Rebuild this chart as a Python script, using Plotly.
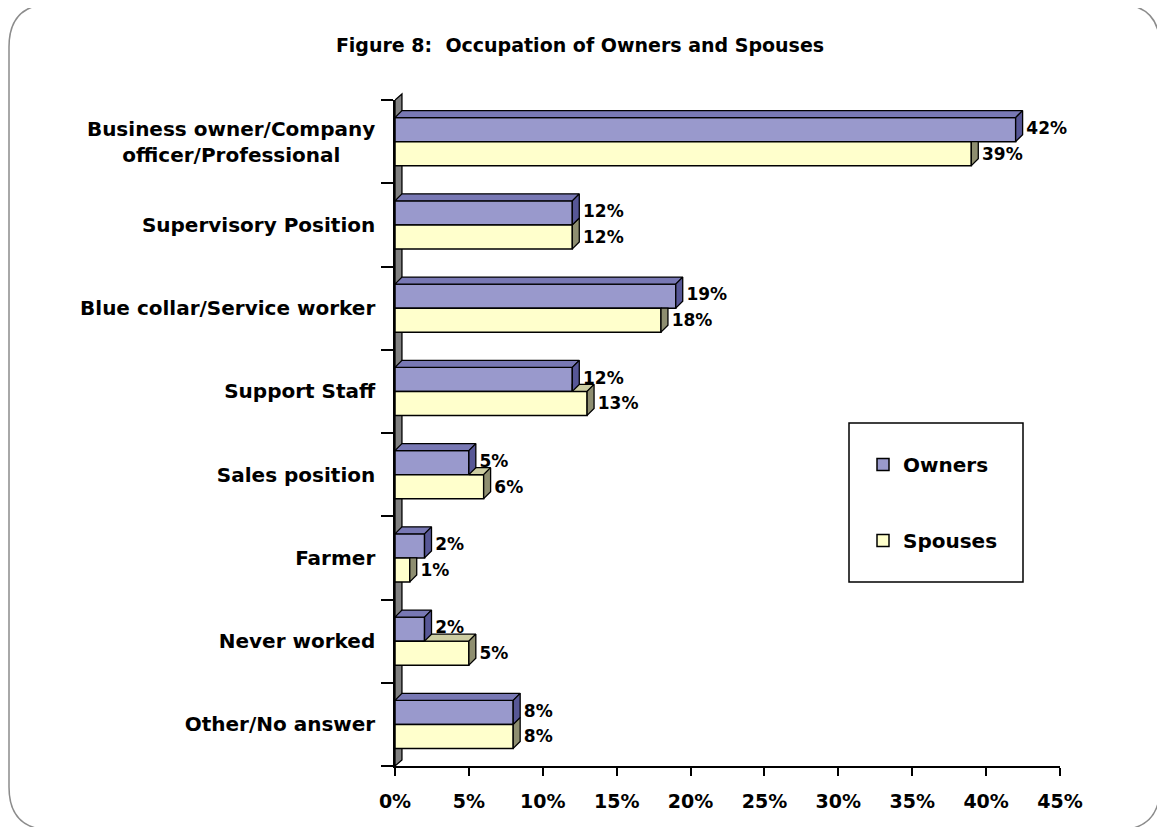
import plotly.graph_objects as go

# ---------------- data ----------------
categories = [
    "Business owner/Company<br>officer/Professional" + "\u00a0" * 5,
    "Supervisory Position",
    "Blue collar/Service worker",
    "Support Staff",
    "Sales position",
    "Farmer",
    "Never worked",
    "Other/No answer",
]
owners = [42, 12, 19, 12, 5, 2, 2, 8]
spouses = [39, 12, 18, 13, 6, 1, 5, 8]
x_ticks = [0, 5, 10, 15, 20, 25, 30, 35, 40, 45]
x_tick_labels = ["0%", "5%", "10%", "15%", "20%", "25%", "30%", "35%", "40%", "45%"]
title_text = "Figure 8:  Occupation of Owners and Spouses"

# ---------------- style ----------------
FONT = "DejaVu Sans"
OWN_FRONT, OWN_TOP, OWN_SIDE = "#9999CC", "#7878B4", "#575796"
SPO_FRONT, SPO_TOP, SPO_SIDE = "#FFFFCC", "#CDCDA2", "#8E8E70"
BARGAP = 0.423
W = (1 - BARGAP) / 2      # bar thickness in category units
DX = 0.47                 # 3-D depth, x (percent units)
DY = 0.084                # 3-D depth, y (category units)

OFF = 8                   # page body margin
W_PX, H_PX = 1165 - OFF, 827 - OFF
L, T = 395 - OFF, 100 - OFF
PW, PH = 665, 666
R, B = W_PX - L - PW, H_PX - T - PH


def fx(px):  # page px -> paper x
    return (px - OFF - L) / PW


def fy(py):  # page px -> paper y
    return (H_PX - B - (py - OFF)) / PH


idx = list(range(len(categories)))


def polys(list_of_pts):
    xs, ys = [], []
    for pts in list_of_pts:
        for p in pts:
            xs.append(p[0]); ys.append(p[1])
        xs += [pts[0][0], None]; ys += [pts[0][1], None]
    return xs, ys


own_top, own_side, spo_top, spo_side = [], [], [], []
for i, o, s in zip(idx, owners, spouses):
    yt, yb = i - W, i
    own_top.append([(0, yt), (o, yt), (o + DX, yt - DY), (DX, yt - DY)])
    own_side.append([(o, yt), (o, yb), (o + DX, yb - DY), (o + DX, yt - DY)])
    st, sb = i, i + W
    if s > o:
        spo_top.append([(o, st), (s, st), (s + DX, st - DY), (o, st - DY)])
    if s >= o:
        spo_side.append([(s, st), (s, sb), (s + DX, sb - DY), (s + DX, st - DY)])
    else:
        spo_side.append([(s, st), (s, sb), (s + DX, sb - DY), (s + DX, st)])

fig = go.Figure()
edge = dict(color="black", width=1.5)

fig.add_trace(go.Bar(
    name="Owners", y=idx, x=owners, orientation="h",
    marker=dict(color=OWN_FRONT, line=edge), legendgroup="o",
    hoverinfo="skip"))
fig.add_trace(go.Bar(
    name="Spouses", y=idx, x=spouses, orientation="h",
    marker=dict(color=SPO_FRONT, line=edge), legendgroup="s",
    hoverinfo="skip"))

for pts, col in [(spo_top, SPO_TOP), (spo_side, SPO_SIDE),
                 (own_top, OWN_TOP), (own_side, OWN_SIDE)]:
    xs, ys = polys(pts)
    fig.add_trace(go.Scatter(
        x=xs, y=ys, mode="lines", fill="toself", fillcolor=col,
        line=dict(color="black", width=1.3), showlegend=False,
        hoverinfo="skip"))

lab_font = dict(family=FONT, size=17, color="black", weight="bold")
LAB_PAD = 0.25
fig.add_trace(go.Scatter(
    x=[v + DX + LAB_PAD for v in owners], y=[i - W / 2 for i in idx],
    mode="text", text=[f"{v}%" for v in owners],
    textposition="middle right", textfont=lab_font,
    cliponaxis=False, showlegend=False, hoverinfo="skip"))
fig.add_trace(go.Scatter(
    x=[v + DX + LAB_PAD for v in spouses], y=[i + W / 2 + 0.02 for i in idx],
    mode="text", text=[f"{v}%" for v in spouses],
    textposition="middle right", textfont=lab_font,
    cliponaxis=False, showlegend=False, hoverinfo="skip"))

# rounded frame (page pixel positions)
r = 43
x0, x1, y0, y1 = 9, 1160, 4, 830
frame = (
    f"M {fx(x0)},{fy(y0 + r)} Q {fx(x0)},{fy(y0)} {fx(x0 + r)},{fy(y0)} "
    f"L {fx(x1 - r)},{fy(y0)} Q {fx(x1)},{fy(y0)} {fx(x1)},{fy(y0 + r)} "
    f"L {fx(x1)},{fy(y1 - r)} Q {fx(x1)},{fy(y1)} {fx(x1 - r)},{fy(y1)} "
    f"L {fx(x0 + r)},{fy(y1)} Q {fx(x0)},{fy(y1)} {fx(x0)},{fy(y1 - r)} Z"
)
shapes = [
    dict(type="path", xref="paper", yref="paper", path=frame,
         line=dict(color="#8c8c8c", width=1.5), layer="below"),
    # back wall
    dict(type="path", xref="x", yref="paper",
         path=f"M 0,0 L 0,1 L {DX},{1 + 6 / PH} L {DX},{6 / PH} Z",
         fillcolor="#808080", line=dict(color="black", width=1.3),
         layer="below"),
    # legend frame
    dict(type="rect", xref="paper", yref="paper",
         x0=fx(849), x1=fx(1023), y0=fy(582), y1=fy(423),
         line=dict(color="black", width=1.5), fillcolor="rgba(0,0,0,0)"),
]

fig.update_layout(
    width=W_PX, height=H_PX,
    margin=dict(l=L, r=R, t=T, b=B, pad=0),
    paper_bgcolor="white", plot_bgcolor="rgba(0,0,0,0)",
    barmode="group", bargap=BARGAP, bargroupgap=0,
    title=dict(text=title_text, x=(580 - OFF) / W_PX, xanchor="center",
               y=1 - (45 - OFF) / H_PX, yanchor="middle",
               font=dict(family=FONT, size=19, color="black", weight="bold")),
    shapes=shapes,
    showlegend=True,
    legend=dict(x=fx(863), xanchor="left", y=fy(445), yanchor="top",
                bgcolor="rgba(0,0,0,0)", borderwidth=0,
                tracegroupgap=47, traceorder="grouped",
                font=dict(family=FONT, size=20, color="black", weight="bold")),
    xaxis=dict(range=[0, 45], tickvals=x_ticks, ticktext=x_tick_labels,
               showgrid=False, zeroline=False,
               showline=True, linecolor="black", linewidth=2,
               ticks="outside", ticklen=8, tickwidth=2, tickcolor="black",
               ticklabelstandoff=9,
               tickfont=dict(family=FONT, size=19, color="black", weight="bold")),
    yaxis=dict(range=[len(categories) - 0.5, -0.5], tickvals=idx,
               ticktext=categories, showgrid=False, zeroline=False,
               showline=True, linecolor="black", linewidth=1.5,
               ticks="", ticklabelstandoff=14,
               minor=dict(tickmode="array",
                          tickvals=[i - 0.5 for i in range(len(categories) + 1)],
                          ticks="outside", ticklen=12, tickwidth=1.5,
                          tickcolor="black", showgrid=False),
               tickfont=dict(family=FONT, size=20, color="black", weight="bold")),
)

fig.write_html("out.html")
